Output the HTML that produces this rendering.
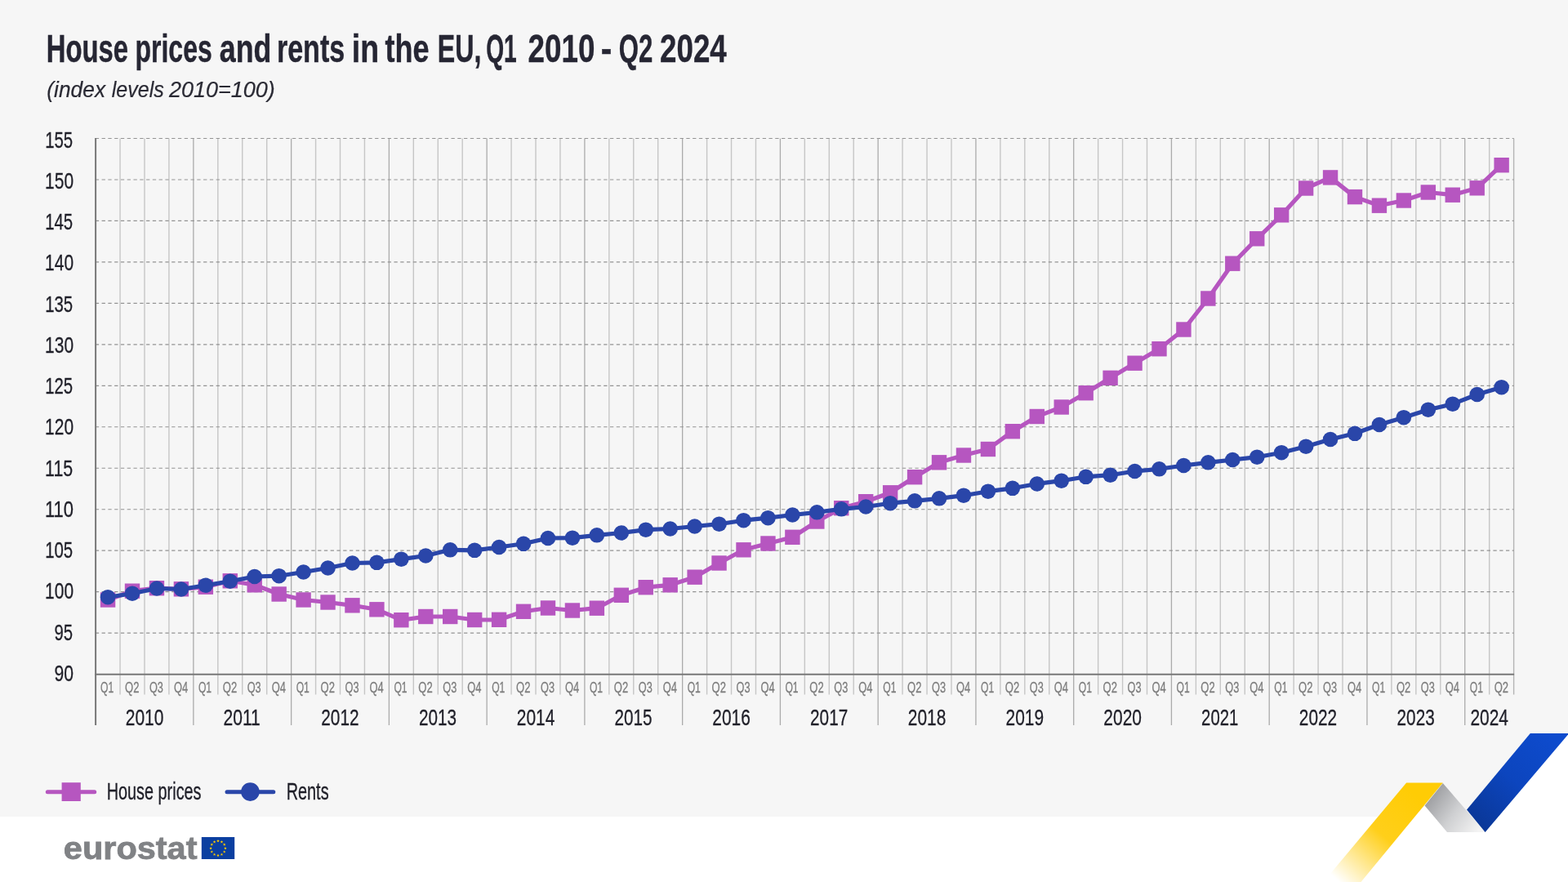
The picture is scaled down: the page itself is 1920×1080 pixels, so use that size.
<!DOCTYPE html>
<html lang="en"><head><meta charset="utf-8"><title>House prices and rents in the EU</title>
<style>html,body{margin:0;padding:0;background:#f6f6f6;}body{width:1920px;height:1080px;overflow:hidden;}svg{display:block;}text{font-family:'Liberation Sans', sans-serif;}</style>
</head><body>
<svg width="1920" height="1080" viewBox="0 0 1920 1080">
<defs>
<linearGradient id="gy" gradientUnits="userSpaceOnUse" x1="1735" y1="975" x2="1640" y2="1080"><stop offset="0" stop-color="#ffcc05"/><stop offset="0.45" stop-color="#ffcf1a"/><stop offset="1" stop-color="#ffffff"/></linearGradient>
<linearGradient id="gs" gradientUnits="userSpaceOnUse" x1="1752" y1="972" x2="1812" y2="1016"><stop offset="0" stop-color="#9c9da0"/><stop offset="0.5" stop-color="#cfd0d2"/><stop offset="1" stop-color="#f4f4f4"/></linearGradient>
<linearGradient id="gb" gradientUnits="userSpaceOnUse" x1="1805" y1="1010" x2="1900" y2="900"><stop offset="0" stop-color="#0a3796"/><stop offset="0.5" stop-color="#0c45be"/><stop offset="1" stop-color="#0e4bcd"/></linearGradient>
</defs>
<rect x="0" y="0" width="1920" height="1080" fill="#f6f6f6"/>
<rect x="0" y="1000" width="1920" height="80" fill="#ffffff"/>
<polygon points="1744.6,986.6 1772,1019 1818.6,1019 1920,898.5 1920,1001 1730,1001" fill="#ffffff"/>
<g fill="none">
<line x1="147.04" y1="169.5" x2="147.04" y2="850.5" stroke="#c6c6c6" stroke-width="1.4"/>
<line x1="176.98" y1="169.5" x2="176.98" y2="850.5" stroke="#c6c6c6" stroke-width="1.4"/>
<line x1="206.92" y1="169.5" x2="206.92" y2="850.5" stroke="#c6c6c6" stroke-width="1.4"/>
<line x1="236.86" y1="169.5" x2="236.86" y2="888" stroke="#ababab" stroke-width="1.3"/>
<line x1="266.80" y1="169.5" x2="266.80" y2="850.5" stroke="#c6c6c6" stroke-width="1.4"/>
<line x1="296.74" y1="169.5" x2="296.74" y2="850.5" stroke="#c6c6c6" stroke-width="1.4"/>
<line x1="326.68" y1="169.5" x2="326.68" y2="850.5" stroke="#c6c6c6" stroke-width="1.4"/>
<line x1="356.62" y1="169.5" x2="356.62" y2="888" stroke="#ababab" stroke-width="1.3"/>
<line x1="386.56" y1="169.5" x2="386.56" y2="850.5" stroke="#c6c6c6" stroke-width="1.4"/>
<line x1="416.50" y1="169.5" x2="416.50" y2="850.5" stroke="#c6c6c6" stroke-width="1.4"/>
<line x1="446.44" y1="169.5" x2="446.44" y2="850.5" stroke="#c6c6c6" stroke-width="1.4"/>
<line x1="476.38" y1="169.5" x2="476.38" y2="888" stroke="#ababab" stroke-width="1.3"/>
<line x1="506.32" y1="169.5" x2="506.32" y2="850.5" stroke="#c6c6c6" stroke-width="1.4"/>
<line x1="536.26" y1="169.5" x2="536.26" y2="850.5" stroke="#c6c6c6" stroke-width="1.4"/>
<line x1="566.19" y1="169.5" x2="566.19" y2="850.5" stroke="#c6c6c6" stroke-width="1.4"/>
<line x1="596.13" y1="169.5" x2="596.13" y2="888" stroke="#ababab" stroke-width="1.3"/>
<line x1="626.07" y1="169.5" x2="626.07" y2="850.5" stroke="#c6c6c6" stroke-width="1.4"/>
<line x1="656.01" y1="169.5" x2="656.01" y2="850.5" stroke="#c6c6c6" stroke-width="1.4"/>
<line x1="685.95" y1="169.5" x2="685.95" y2="850.5" stroke="#c6c6c6" stroke-width="1.4"/>
<line x1="715.89" y1="169.5" x2="715.89" y2="888" stroke="#ababab" stroke-width="1.3"/>
<line x1="745.83" y1="169.5" x2="745.83" y2="850.5" stroke="#c6c6c6" stroke-width="1.4"/>
<line x1="775.77" y1="169.5" x2="775.77" y2="850.5" stroke="#c6c6c6" stroke-width="1.4"/>
<line x1="805.71" y1="169.5" x2="805.71" y2="850.5" stroke="#c6c6c6" stroke-width="1.4"/>
<line x1="835.65" y1="169.5" x2="835.65" y2="888" stroke="#ababab" stroke-width="1.3"/>
<line x1="865.59" y1="169.5" x2="865.59" y2="850.5" stroke="#c6c6c6" stroke-width="1.4"/>
<line x1="895.53" y1="169.5" x2="895.53" y2="850.5" stroke="#c6c6c6" stroke-width="1.4"/>
<line x1="925.47" y1="169.5" x2="925.47" y2="850.5" stroke="#c6c6c6" stroke-width="1.4"/>
<line x1="955.41" y1="169.5" x2="955.41" y2="888" stroke="#ababab" stroke-width="1.3"/>
<line x1="985.35" y1="169.5" x2="985.35" y2="850.5" stroke="#c6c6c6" stroke-width="1.4"/>
<line x1="1015.29" y1="169.5" x2="1015.29" y2="850.5" stroke="#c6c6c6" stroke-width="1.4"/>
<line x1="1045.23" y1="169.5" x2="1045.23" y2="850.5" stroke="#c6c6c6" stroke-width="1.4"/>
<line x1="1075.17" y1="169.5" x2="1075.17" y2="888" stroke="#ababab" stroke-width="1.3"/>
<line x1="1105.11" y1="169.5" x2="1105.11" y2="850.5" stroke="#c6c6c6" stroke-width="1.4"/>
<line x1="1135.05" y1="169.5" x2="1135.05" y2="850.5" stroke="#c6c6c6" stroke-width="1.4"/>
<line x1="1164.99" y1="169.5" x2="1164.99" y2="850.5" stroke="#c6c6c6" stroke-width="1.4"/>
<line x1="1194.93" y1="169.5" x2="1194.93" y2="888" stroke="#ababab" stroke-width="1.3"/>
<line x1="1224.87" y1="169.5" x2="1224.87" y2="850.5" stroke="#c6c6c6" stroke-width="1.4"/>
<line x1="1254.81" y1="169.5" x2="1254.81" y2="850.5" stroke="#c6c6c6" stroke-width="1.4"/>
<line x1="1284.75" y1="169.5" x2="1284.75" y2="850.5" stroke="#c6c6c6" stroke-width="1.4"/>
<line x1="1314.69" y1="169.5" x2="1314.69" y2="888" stroke="#ababab" stroke-width="1.3"/>
<line x1="1344.63" y1="169.5" x2="1344.63" y2="850.5" stroke="#c6c6c6" stroke-width="1.4"/>
<line x1="1374.57" y1="169.5" x2="1374.57" y2="850.5" stroke="#c6c6c6" stroke-width="1.4"/>
<line x1="1404.51" y1="169.5" x2="1404.51" y2="850.5" stroke="#c6c6c6" stroke-width="1.4"/>
<line x1="1434.44" y1="169.5" x2="1434.44" y2="888" stroke="#ababab" stroke-width="1.3"/>
<line x1="1464.38" y1="169.5" x2="1464.38" y2="850.5" stroke="#c6c6c6" stroke-width="1.4"/>
<line x1="1494.32" y1="169.5" x2="1494.32" y2="850.5" stroke="#c6c6c6" stroke-width="1.4"/>
<line x1="1524.26" y1="169.5" x2="1524.26" y2="850.5" stroke="#c6c6c6" stroke-width="1.4"/>
<line x1="1554.20" y1="169.5" x2="1554.20" y2="888" stroke="#ababab" stroke-width="1.3"/>
<line x1="1584.14" y1="169.5" x2="1584.14" y2="850.5" stroke="#c6c6c6" stroke-width="1.4"/>
<line x1="1614.08" y1="169.5" x2="1614.08" y2="850.5" stroke="#c6c6c6" stroke-width="1.4"/>
<line x1="1644.02" y1="169.5" x2="1644.02" y2="850.5" stroke="#c6c6c6" stroke-width="1.4"/>
<line x1="1673.96" y1="169.5" x2="1673.96" y2="888" stroke="#ababab" stroke-width="1.3"/>
<line x1="1703.90" y1="169.5" x2="1703.90" y2="850.5" stroke="#c6c6c6" stroke-width="1.4"/>
<line x1="1733.84" y1="169.5" x2="1733.84" y2="850.5" stroke="#c6c6c6" stroke-width="1.4"/>
<line x1="1763.78" y1="169.5" x2="1763.78" y2="850.5" stroke="#c6c6c6" stroke-width="1.4"/>
<line x1="1793.72" y1="169.5" x2="1793.72" y2="888" stroke="#ababab" stroke-width="1.3"/>
<line x1="1823.66" y1="169.5" x2="1823.66" y2="850.5" stroke="#c6c6c6" stroke-width="1.4"/>
<line x1="1853.60" y1="169.5" x2="1853.60" y2="850.5" stroke="#b4b4b4" stroke-width="1.4"/>
<line x1="116.8" y1="775.13" x2="1853.6" y2="775.13" stroke="#939393" stroke-width="1.15" stroke-dasharray="4.3 3.48"/>
<line x1="116.8" y1="724.66" x2="1853.6" y2="724.66" stroke="#939393" stroke-width="1.15" stroke-dasharray="4.3 3.48"/>
<line x1="116.8" y1="674.19" x2="1853.6" y2="674.19" stroke="#939393" stroke-width="1.15" stroke-dasharray="4.3 3.48"/>
<line x1="116.8" y1="623.72" x2="1853.6" y2="623.72" stroke="#939393" stroke-width="1.15" stroke-dasharray="4.3 3.48"/>
<line x1="116.8" y1="573.25" x2="1853.6" y2="573.25" stroke="#939393" stroke-width="1.15" stroke-dasharray="4.3 3.48"/>
<line x1="116.8" y1="522.78" x2="1853.6" y2="522.78" stroke="#939393" stroke-width="1.15" stroke-dasharray="4.3 3.48"/>
<line x1="116.8" y1="472.32" x2="1853.6" y2="472.32" stroke="#939393" stroke-width="1.15" stroke-dasharray="4.3 3.48"/>
<line x1="116.8" y1="421.85" x2="1853.6" y2="421.85" stroke="#939393" stroke-width="1.15" stroke-dasharray="4.3 3.48"/>
<line x1="116.8" y1="371.38" x2="1853.6" y2="371.38" stroke="#939393" stroke-width="1.15" stroke-dasharray="4.3 3.48"/>
<line x1="116.8" y1="320.91" x2="1853.6" y2="320.91" stroke="#939393" stroke-width="1.15" stroke-dasharray="4.3 3.48"/>
<line x1="116.8" y1="270.44" x2="1853.6" y2="270.44" stroke="#939393" stroke-width="1.15" stroke-dasharray="4.3 3.48"/>
<line x1="116.8" y1="219.97" x2="1853.6" y2="219.97" stroke="#939393" stroke-width="1.15" stroke-dasharray="4.3 3.48"/>
<line x1="116.8" y1="169.50" x2="1853.6" y2="169.50" stroke="#939393" stroke-width="1.15" stroke-dasharray="4.3 3.48"/>
<line x1="117.1" y1="169.0" x2="117.1" y2="888" stroke="#787878" stroke-width="2"/>
<line x1="116.1" y1="825.8" x2="1854.1" y2="825.8" stroke="#787878" stroke-width="2"/>
</g>
<text x="56.74" y="75.60" font-size="47.2" fill="#262633" textLength="100.29" lengthAdjust="spacingAndGlyphs" stroke="#262633" stroke-width="0.4" font-weight="700">House</text>
<text x="165.48" y="75.60" font-size="47.2" fill="#262633" textLength="94.23" lengthAdjust="spacingAndGlyphs" stroke="#262633" stroke-width="0.4" font-weight="700">prices</text>
<text x="268.79" y="75.60" font-size="47.2" fill="#262633" textLength="63.61" lengthAdjust="spacingAndGlyphs" stroke="#262633" stroke-width="0.4" font-weight="700">and</text>
<text x="338.91" y="75.60" font-size="47.2" fill="#262633" textLength="83.25" lengthAdjust="spacingAndGlyphs" stroke="#262633" stroke-width="0.4" font-weight="700">rents</text>
<text x="430.79" y="75.60" font-size="47.2" fill="#262633" textLength="33.24" lengthAdjust="spacingAndGlyphs" stroke="#262633" stroke-width="0.4" font-weight="700">in</text>
<text x="471.46" y="75.60" font-size="47.2" fill="#262633" textLength="53.99" lengthAdjust="spacingAndGlyphs" stroke="#262633" stroke-width="0.4" font-weight="700">the</text>
<text x="535.75" y="75.60" font-size="47.2" fill="#262633" textLength="53.62" lengthAdjust="spacingAndGlyphs" stroke="#262633" stroke-width="0.4" font-weight="700">EU,</text>
<text x="595.14" y="75.60" font-size="47.2" fill="#262633" textLength="37.54" lengthAdjust="spacingAndGlyphs" stroke="#262633" stroke-width="0.4" font-weight="700">Q1</text>
<text x="646.62" y="75.60" font-size="47.2" fill="#262633" textLength="81.91" lengthAdjust="spacingAndGlyphs" stroke="#262633" stroke-width="0.4" font-weight="700">2010</text>
<text x="735.71" y="75.60" font-size="47.2" fill="#262633" textLength="13.51" lengthAdjust="spacingAndGlyphs" stroke="#262633" stroke-width="0.4" font-weight="700">-</text>
<text x="757.72" y="75.60" font-size="47.2" fill="#262633" textLength="41.53" lengthAdjust="spacingAndGlyphs" stroke="#262633" stroke-width="0.4" font-weight="700">Q2</text>
<text x="808.12" y="75.60" font-size="47.2" fill="#262633" textLength="81.68" lengthAdjust="spacingAndGlyphs" stroke="#262633" stroke-width="0.4" font-weight="700">2024</text>
<text x="57.34" y="118.50" font-size="27.3" fill="#2a2a34" textLength="71.77" lengthAdjust="spacingAndGlyphs" stroke="#2a2a34" stroke-width="0.2" font-style="italic">(index</text>
<text x="136.69" y="118.50" font-size="27.3" fill="#2a2a34" textLength="64.03" lengthAdjust="spacingAndGlyphs" stroke="#2a2a34" stroke-width="0.2" font-style="italic">levels</text>
<text x="207.00" y="118.50" font-size="27.3" fill="#2a2a34" textLength="129.85" lengthAdjust="spacingAndGlyphs" stroke="#2a2a34" stroke-width="0.2" font-style="italic">2010=100)</text>
<text x="55.14" y="180.80" font-size="28.5" fill="#1f1f28" textLength="34.04" lengthAdjust="spacingAndGlyphs" stroke="#1f1f28" stroke-width="0.3">155</text>
<text x="55.10" y="231.03" font-size="28.5" fill="#1f1f28" textLength="34.97" lengthAdjust="spacingAndGlyphs" stroke="#1f1f28" stroke-width="0.3">150</text>
<text x="55.14" y="281.25" font-size="28.5" fill="#1f1f28" textLength="34.04" lengthAdjust="spacingAndGlyphs" stroke="#1f1f28" stroke-width="0.3">145</text>
<text x="55.10" y="331.48" font-size="28.5" fill="#1f1f28" textLength="34.97" lengthAdjust="spacingAndGlyphs" stroke="#1f1f28" stroke-width="0.3">140</text>
<text x="55.14" y="381.71" font-size="28.5" fill="#1f1f28" textLength="34.04" lengthAdjust="spacingAndGlyphs" stroke="#1f1f28" stroke-width="0.3">135</text>
<text x="55.10" y="431.94" font-size="28.5" fill="#1f1f28" textLength="34.97" lengthAdjust="spacingAndGlyphs" stroke="#1f1f28" stroke-width="0.3">130</text>
<text x="55.14" y="482.16" font-size="28.5" fill="#1f1f28" textLength="34.04" lengthAdjust="spacingAndGlyphs" stroke="#1f1f28" stroke-width="0.3">125</text>
<text x="55.10" y="532.39" font-size="28.5" fill="#1f1f28" textLength="34.97" lengthAdjust="spacingAndGlyphs" stroke="#1f1f28" stroke-width="0.3">120</text>
<text x="55.06" y="582.62" font-size="28.5" fill="#1f1f28" textLength="34.17" lengthAdjust="spacingAndGlyphs" stroke="#1f1f28" stroke-width="0.3">115</text>
<text x="55.02" y="632.84" font-size="28.5" fill="#1f1f28" textLength="35.05" lengthAdjust="spacingAndGlyphs" stroke="#1f1f28" stroke-width="0.3">110</text>
<text x="55.14" y="683.07" font-size="28.5" fill="#1f1f28" textLength="34.04" lengthAdjust="spacingAndGlyphs" stroke="#1f1f28" stroke-width="0.3">105</text>
<text x="55.10" y="733.30" font-size="28.5" fill="#1f1f28" textLength="34.97" lengthAdjust="spacingAndGlyphs" stroke="#1f1f28" stroke-width="0.3">100</text>
<text x="66.54" y="783.52" font-size="28.5" fill="#1f1f28" textLength="22.63" lengthAdjust="spacingAndGlyphs" stroke="#1f1f28" stroke-width="0.3">95</text>
<text x="66.50" y="833.75" font-size="28.5" fill="#1f1f28" textLength="23.53" lengthAdjust="spacingAndGlyphs" stroke="#1f1f28" stroke-width="0.3">90</text>
<text x="123.12" y="847.80" font-size="18" fill="#7d7d7d" textLength="16.19" lengthAdjust="spacingAndGlyphs" stroke="#7d7d7d" stroke-width="0.3">Q1</text>
<text x="153.02" y="847.80" font-size="18" fill="#7d7d7d" textLength="17.38" lengthAdjust="spacingAndGlyphs" stroke="#7d7d7d" stroke-width="0.3">Q2</text>
<text x="182.97" y="847.80" font-size="18" fill="#7d7d7d" textLength="16.98" lengthAdjust="spacingAndGlyphs" stroke="#7d7d7d" stroke-width="0.3">Q3</text>
<text x="212.90" y="847.80" font-size="18" fill="#7d7d7d" textLength="17.21" lengthAdjust="spacingAndGlyphs" stroke="#7d7d7d" stroke-width="0.3">Q4</text>
<text x="242.88" y="847.80" font-size="18" fill="#7d7d7d" textLength="16.19" lengthAdjust="spacingAndGlyphs" stroke="#7d7d7d" stroke-width="0.3">Q1</text>
<text x="272.77" y="847.80" font-size="18" fill="#7d7d7d" textLength="17.38" lengthAdjust="spacingAndGlyphs" stroke="#7d7d7d" stroke-width="0.3">Q2</text>
<text x="302.73" y="847.80" font-size="18" fill="#7d7d7d" textLength="16.98" lengthAdjust="spacingAndGlyphs" stroke="#7d7d7d" stroke-width="0.3">Q3</text>
<text x="332.66" y="847.80" font-size="18" fill="#7d7d7d" textLength="17.21" lengthAdjust="spacingAndGlyphs" stroke="#7d7d7d" stroke-width="0.3">Q4</text>
<text x="362.64" y="847.80" font-size="18" fill="#7d7d7d" textLength="16.19" lengthAdjust="spacingAndGlyphs" stroke="#7d7d7d" stroke-width="0.3">Q1</text>
<text x="392.53" y="847.80" font-size="18" fill="#7d7d7d" textLength="17.38" lengthAdjust="spacingAndGlyphs" stroke="#7d7d7d" stroke-width="0.3">Q2</text>
<text x="422.49" y="847.80" font-size="18" fill="#7d7d7d" textLength="16.98" lengthAdjust="spacingAndGlyphs" stroke="#7d7d7d" stroke-width="0.3">Q3</text>
<text x="452.42" y="847.80" font-size="18" fill="#7d7d7d" textLength="17.21" lengthAdjust="spacingAndGlyphs" stroke="#7d7d7d" stroke-width="0.3">Q4</text>
<text x="482.39" y="847.80" font-size="18" fill="#7d7d7d" textLength="16.19" lengthAdjust="spacingAndGlyphs" stroke="#7d7d7d" stroke-width="0.3">Q1</text>
<text x="512.29" y="847.80" font-size="18" fill="#7d7d7d" textLength="17.38" lengthAdjust="spacingAndGlyphs" stroke="#7d7d7d" stroke-width="0.3">Q2</text>
<text x="542.24" y="847.80" font-size="18" fill="#7d7d7d" textLength="16.98" lengthAdjust="spacingAndGlyphs" stroke="#7d7d7d" stroke-width="0.3">Q3</text>
<text x="572.18" y="847.80" font-size="18" fill="#7d7d7d" textLength="17.21" lengthAdjust="spacingAndGlyphs" stroke="#7d7d7d" stroke-width="0.3">Q4</text>
<text x="602.15" y="847.80" font-size="18" fill="#7d7d7d" textLength="16.19" lengthAdjust="spacingAndGlyphs" stroke="#7d7d7d" stroke-width="0.3">Q1</text>
<text x="632.05" y="847.80" font-size="18" fill="#7d7d7d" textLength="17.38" lengthAdjust="spacingAndGlyphs" stroke="#7d7d7d" stroke-width="0.3">Q2</text>
<text x="662.00" y="847.80" font-size="18" fill="#7d7d7d" textLength="16.98" lengthAdjust="spacingAndGlyphs" stroke="#7d7d7d" stroke-width="0.3">Q3</text>
<text x="691.94" y="847.80" font-size="18" fill="#7d7d7d" textLength="17.21" lengthAdjust="spacingAndGlyphs" stroke="#7d7d7d" stroke-width="0.3">Q4</text>
<text x="721.91" y="847.80" font-size="18" fill="#7d7d7d" textLength="16.19" lengthAdjust="spacingAndGlyphs" stroke="#7d7d7d" stroke-width="0.3">Q1</text>
<text x="751.81" y="847.80" font-size="18" fill="#7d7d7d" textLength="17.38" lengthAdjust="spacingAndGlyphs" stroke="#7d7d7d" stroke-width="0.3">Q2</text>
<text x="781.76" y="847.80" font-size="18" fill="#7d7d7d" textLength="16.98" lengthAdjust="spacingAndGlyphs" stroke="#7d7d7d" stroke-width="0.3">Q3</text>
<text x="811.69" y="847.80" font-size="18" fill="#7d7d7d" textLength="17.21" lengthAdjust="spacingAndGlyphs" stroke="#7d7d7d" stroke-width="0.3">Q4</text>
<text x="841.67" y="847.80" font-size="18" fill="#7d7d7d" textLength="16.19" lengthAdjust="spacingAndGlyphs" stroke="#7d7d7d" stroke-width="0.3">Q1</text>
<text x="871.57" y="847.80" font-size="18" fill="#7d7d7d" textLength="17.38" lengthAdjust="spacingAndGlyphs" stroke="#7d7d7d" stroke-width="0.3">Q2</text>
<text x="901.52" y="847.80" font-size="18" fill="#7d7d7d" textLength="16.98" lengthAdjust="spacingAndGlyphs" stroke="#7d7d7d" stroke-width="0.3">Q3</text>
<text x="931.45" y="847.80" font-size="18" fill="#7d7d7d" textLength="17.21" lengthAdjust="spacingAndGlyphs" stroke="#7d7d7d" stroke-width="0.3">Q4</text>
<text x="961.43" y="847.80" font-size="18" fill="#7d7d7d" textLength="16.19" lengthAdjust="spacingAndGlyphs" stroke="#7d7d7d" stroke-width="0.3">Q1</text>
<text x="991.33" y="847.80" font-size="18" fill="#7d7d7d" textLength="17.38" lengthAdjust="spacingAndGlyphs" stroke="#7d7d7d" stroke-width="0.3">Q2</text>
<text x="1021.28" y="847.80" font-size="18" fill="#7d7d7d" textLength="16.98" lengthAdjust="spacingAndGlyphs" stroke="#7d7d7d" stroke-width="0.3">Q3</text>
<text x="1051.21" y="847.80" font-size="18" fill="#7d7d7d" textLength="17.21" lengthAdjust="spacingAndGlyphs" stroke="#7d7d7d" stroke-width="0.3">Q4</text>
<text x="1081.19" y="847.80" font-size="18" fill="#7d7d7d" textLength="16.19" lengthAdjust="spacingAndGlyphs" stroke="#7d7d7d" stroke-width="0.3">Q1</text>
<text x="1111.08" y="847.80" font-size="18" fill="#7d7d7d" textLength="17.38" lengthAdjust="spacingAndGlyphs" stroke="#7d7d7d" stroke-width="0.3">Q2</text>
<text x="1141.04" y="847.80" font-size="18" fill="#7d7d7d" textLength="16.98" lengthAdjust="spacingAndGlyphs" stroke="#7d7d7d" stroke-width="0.3">Q3</text>
<text x="1170.97" y="847.80" font-size="18" fill="#7d7d7d" textLength="17.21" lengthAdjust="spacingAndGlyphs" stroke="#7d7d7d" stroke-width="0.3">Q4</text>
<text x="1200.95" y="847.80" font-size="18" fill="#7d7d7d" textLength="16.19" lengthAdjust="spacingAndGlyphs" stroke="#7d7d7d" stroke-width="0.3">Q1</text>
<text x="1230.84" y="847.80" font-size="18" fill="#7d7d7d" textLength="17.38" lengthAdjust="spacingAndGlyphs" stroke="#7d7d7d" stroke-width="0.3">Q2</text>
<text x="1260.80" y="847.80" font-size="18" fill="#7d7d7d" textLength="16.98" lengthAdjust="spacingAndGlyphs" stroke="#7d7d7d" stroke-width="0.3">Q3</text>
<text x="1290.73" y="847.80" font-size="18" fill="#7d7d7d" textLength="17.21" lengthAdjust="spacingAndGlyphs" stroke="#7d7d7d" stroke-width="0.3">Q4</text>
<text x="1320.70" y="847.80" font-size="18" fill="#7d7d7d" textLength="16.19" lengthAdjust="spacingAndGlyphs" stroke="#7d7d7d" stroke-width="0.3">Q1</text>
<text x="1350.60" y="847.80" font-size="18" fill="#7d7d7d" textLength="17.38" lengthAdjust="spacingAndGlyphs" stroke="#7d7d7d" stroke-width="0.3">Q2</text>
<text x="1380.56" y="847.80" font-size="18" fill="#7d7d7d" textLength="16.98" lengthAdjust="spacingAndGlyphs" stroke="#7d7d7d" stroke-width="0.3">Q3</text>
<text x="1410.49" y="847.80" font-size="18" fill="#7d7d7d" textLength="17.21" lengthAdjust="spacingAndGlyphs" stroke="#7d7d7d" stroke-width="0.3">Q4</text>
<text x="1440.46" y="847.80" font-size="18" fill="#7d7d7d" textLength="16.19" lengthAdjust="spacingAndGlyphs" stroke="#7d7d7d" stroke-width="0.3">Q1</text>
<text x="1470.36" y="847.80" font-size="18" fill="#7d7d7d" textLength="17.38" lengthAdjust="spacingAndGlyphs" stroke="#7d7d7d" stroke-width="0.3">Q2</text>
<text x="1500.31" y="847.80" font-size="18" fill="#7d7d7d" textLength="16.98" lengthAdjust="spacingAndGlyphs" stroke="#7d7d7d" stroke-width="0.3">Q3</text>
<text x="1530.25" y="847.80" font-size="18" fill="#7d7d7d" textLength="17.21" lengthAdjust="spacingAndGlyphs" stroke="#7d7d7d" stroke-width="0.3">Q4</text>
<text x="1560.22" y="847.80" font-size="18" fill="#7d7d7d" textLength="16.19" lengthAdjust="spacingAndGlyphs" stroke="#7d7d7d" stroke-width="0.3">Q1</text>
<text x="1590.12" y="847.80" font-size="18" fill="#7d7d7d" textLength="17.38" lengthAdjust="spacingAndGlyphs" stroke="#7d7d7d" stroke-width="0.3">Q2</text>
<text x="1620.07" y="847.80" font-size="18" fill="#7d7d7d" textLength="16.98" lengthAdjust="spacingAndGlyphs" stroke="#7d7d7d" stroke-width="0.3">Q3</text>
<text x="1650.00" y="847.80" font-size="18" fill="#7d7d7d" textLength="17.21" lengthAdjust="spacingAndGlyphs" stroke="#7d7d7d" stroke-width="0.3">Q4</text>
<text x="1679.98" y="847.80" font-size="18" fill="#7d7d7d" textLength="16.19" lengthAdjust="spacingAndGlyphs" stroke="#7d7d7d" stroke-width="0.3">Q1</text>
<text x="1709.88" y="847.80" font-size="18" fill="#7d7d7d" textLength="17.38" lengthAdjust="spacingAndGlyphs" stroke="#7d7d7d" stroke-width="0.3">Q2</text>
<text x="1739.83" y="847.80" font-size="18" fill="#7d7d7d" textLength="16.98" lengthAdjust="spacingAndGlyphs" stroke="#7d7d7d" stroke-width="0.3">Q3</text>
<text x="1769.76" y="847.80" font-size="18" fill="#7d7d7d" textLength="17.21" lengthAdjust="spacingAndGlyphs" stroke="#7d7d7d" stroke-width="0.3">Q4</text>
<text x="1799.74" y="847.80" font-size="18" fill="#7d7d7d" textLength="16.19" lengthAdjust="spacingAndGlyphs" stroke="#7d7d7d" stroke-width="0.3">Q1</text>
<text x="1829.64" y="847.80" font-size="18" fill="#7d7d7d" textLength="17.38" lengthAdjust="spacingAndGlyphs" stroke="#7d7d7d" stroke-width="0.3">Q2</text>
<text x="153.72" y="887.80" font-size="28.5" fill="#1f1f28" textLength="46.70" lengthAdjust="spacingAndGlyphs" stroke="#1f1f28" stroke-width="0.3">2010</text>
<text x="273.47" y="887.80" font-size="28.5" fill="#1f1f28" textLength="45.31" lengthAdjust="spacingAndGlyphs" stroke="#1f1f28" stroke-width="0.3">2011</text>
<text x="393.25" y="887.80" font-size="28.5" fill="#1f1f28" textLength="46.29" lengthAdjust="spacingAndGlyphs" stroke="#1f1f28" stroke-width="0.3">2012</text>
<text x="513.01" y="887.80" font-size="28.5" fill="#1f1f28" textLength="46.08" lengthAdjust="spacingAndGlyphs" stroke="#1f1f28" stroke-width="0.3">2013</text>
<text x="632.76" y="887.80" font-size="28.5" fill="#1f1f28" textLength="46.57" lengthAdjust="spacingAndGlyphs" stroke="#1f1f28" stroke-width="0.3">2014</text>
<text x="752.53" y="887.80" font-size="28.5" fill="#1f1f28" textLength="46.07" lengthAdjust="spacingAndGlyphs" stroke="#1f1f28" stroke-width="0.3">2015</text>
<text x="872.28" y="887.80" font-size="28.5" fill="#1f1f28" textLength="46.50" lengthAdjust="spacingAndGlyphs" stroke="#1f1f28" stroke-width="0.3">2016</text>
<text x="992.04" y="887.80" font-size="28.5" fill="#1f1f28" textLength="46.19" lengthAdjust="spacingAndGlyphs" stroke="#1f1f28" stroke-width="0.3">2017</text>
<text x="1111.79" y="887.80" font-size="28.5" fill="#1f1f28" textLength="46.49" lengthAdjust="spacingAndGlyphs" stroke="#1f1f28" stroke-width="0.3">2018</text>
<text x="1231.55" y="887.80" font-size="28.5" fill="#1f1f28" textLength="46.50" lengthAdjust="spacingAndGlyphs" stroke="#1f1f28" stroke-width="0.3">2019</text>
<text x="1351.31" y="887.80" font-size="28.5" fill="#1f1f28" textLength="46.70" lengthAdjust="spacingAndGlyphs" stroke="#1f1f28" stroke-width="0.3">2020</text>
<text x="1471.10" y="887.80" font-size="28.5" fill="#1f1f28" textLength="45.25" lengthAdjust="spacingAndGlyphs" stroke="#1f1f28" stroke-width="0.3">2021</text>
<text x="1590.83" y="887.80" font-size="28.5" fill="#1f1f28" textLength="46.29" lengthAdjust="spacingAndGlyphs" stroke="#1f1f28" stroke-width="0.3">2022</text>
<text x="1710.60" y="887.80" font-size="28.5" fill="#1f1f28" textLength="46.08" lengthAdjust="spacingAndGlyphs" stroke="#1f1f28" stroke-width="0.3">2023</text>
<text x="1800.40" y="887.80" font-size="28.5" fill="#1f1f28" textLength="46.57" lengthAdjust="spacingAndGlyphs" stroke="#1f1f28" stroke-width="0.3">2024</text>
<text x="130.66" y="979.20" font-size="28.8" fill="#1f1f28" textLength="115.87" lengthAdjust="spacingAndGlyphs" stroke="#1f1f28" stroke-width="0.3">House prices</text>
<text x="350.67" y="979.20" font-size="28.8" fill="#1f1f28" textLength="51.91" lengthAdjust="spacingAndGlyphs" stroke="#1f1f28" stroke-width="0.3">Rents</text>
<text x="77.86" y="1052.30" font-size="39" fill="#808285" textLength="163.64" lengthAdjust="spacingAndGlyphs" stroke="#808285" stroke-width="0.8" font-weight="700">eurostat</text>
<polyline points="132.07,734.50 162.01,723.70 191.95,720.20 221.89,721.30 251.83,718.70 281.77,711.30 311.71,716.30 341.65,727.50 371.59,734.50 401.53,737.50 431.47,741.30 461.41,746.30 491.35,759.20 521.29,755.00 551.23,755.00 581.16,759.00 611.10,758.80 641.04,748.80 670.98,744.50 700.92,747.50 730.86,744.70 760.80,728.80 790.74,719.20 820.68,716.30 850.62,706.70 880.56,689.50 910.50,673.30 940.44,665.50 970.38,657.80 1000.32,638.50 1030.26,622.20 1060.20,614.20 1090.14,603.30 1120.08,584.20 1150.02,566.30 1179.96,557.50 1209.90,550.00 1239.84,528.20 1269.78,510.00 1299.72,498.50 1329.66,481.20 1359.60,462.80 1389.54,444.70 1419.47,427.20 1449.41,403.50 1479.35,365.50 1509.29,322.70 1539.23,292.30 1569.17,263.30 1599.11,230.50 1629.05,217.40 1658.99,241.10 1688.93,251.70 1718.87,245.50 1748.81,235.50 1778.75,238.70 1808.69,230.30 1838.63,202.20" fill="none" stroke="#b656c0" stroke-width="5.2" stroke-linejoin="round" stroke-linecap="round"/>
<g fill="#b656c0">
<rect x="122.87" y="725.30" width="18.4" height="18.4"/>
<rect x="152.81" y="714.50" width="18.4" height="18.4"/>
<rect x="182.75" y="711.00" width="18.4" height="18.4"/>
<rect x="212.69" y="712.10" width="18.4" height="18.4"/>
<rect x="242.63" y="709.50" width="18.4" height="18.4"/>
<rect x="272.57" y="702.10" width="18.4" height="18.4"/>
<rect x="302.51" y="707.10" width="18.4" height="18.4"/>
<rect x="332.45" y="718.30" width="18.4" height="18.4"/>
<rect x="362.39" y="725.30" width="18.4" height="18.4"/>
<rect x="392.33" y="728.30" width="18.4" height="18.4"/>
<rect x="422.27" y="732.10" width="18.4" height="18.4"/>
<rect x="452.21" y="737.10" width="18.4" height="18.4"/>
<rect x="482.15" y="750.00" width="18.4" height="18.4"/>
<rect x="512.09" y="745.80" width="18.4" height="18.4"/>
<rect x="542.02" y="745.80" width="18.4" height="18.4"/>
<rect x="571.96" y="749.80" width="18.4" height="18.4"/>
<rect x="601.90" y="749.60" width="18.4" height="18.4"/>
<rect x="631.84" y="739.60" width="18.4" height="18.4"/>
<rect x="661.78" y="735.30" width="18.4" height="18.4"/>
<rect x="691.72" y="738.30" width="18.4" height="18.4"/>
<rect x="721.66" y="735.50" width="18.4" height="18.4"/>
<rect x="751.60" y="719.60" width="18.4" height="18.4"/>
<rect x="781.54" y="710.00" width="18.4" height="18.4"/>
<rect x="811.48" y="707.10" width="18.4" height="18.4"/>
<rect x="841.42" y="697.50" width="18.4" height="18.4"/>
<rect x="871.36" y="680.30" width="18.4" height="18.4"/>
<rect x="901.30" y="664.10" width="18.4" height="18.4"/>
<rect x="931.24" y="656.30" width="18.4" height="18.4"/>
<rect x="961.18" y="648.60" width="18.4" height="18.4"/>
<rect x="991.12" y="629.30" width="18.4" height="18.4"/>
<rect x="1021.06" y="613.00" width="18.4" height="18.4"/>
<rect x="1051.00" y="605.00" width="18.4" height="18.4"/>
<rect x="1080.94" y="594.10" width="18.4" height="18.4"/>
<rect x="1110.88" y="575.00" width="18.4" height="18.4"/>
<rect x="1140.82" y="557.10" width="18.4" height="18.4"/>
<rect x="1170.76" y="548.30" width="18.4" height="18.4"/>
<rect x="1200.70" y="540.80" width="18.4" height="18.4"/>
<rect x="1230.64" y="519.00" width="18.4" height="18.4"/>
<rect x="1260.58" y="500.80" width="18.4" height="18.4"/>
<rect x="1290.52" y="489.30" width="18.4" height="18.4"/>
<rect x="1320.46" y="472.00" width="18.4" height="18.4"/>
<rect x="1350.40" y="453.60" width="18.4" height="18.4"/>
<rect x="1380.34" y="435.50" width="18.4" height="18.4"/>
<rect x="1410.27" y="418.00" width="18.4" height="18.4"/>
<rect x="1440.21" y="394.30" width="18.4" height="18.4"/>
<rect x="1470.15" y="356.30" width="18.4" height="18.4"/>
<rect x="1500.09" y="313.50" width="18.4" height="18.4"/>
<rect x="1530.03" y="283.10" width="18.4" height="18.4"/>
<rect x="1559.97" y="254.10" width="18.4" height="18.4"/>
<rect x="1589.91" y="221.30" width="18.4" height="18.4"/>
<rect x="1619.85" y="208.20" width="18.4" height="18.4"/>
<rect x="1649.79" y="231.90" width="18.4" height="18.4"/>
<rect x="1679.73" y="242.50" width="18.4" height="18.4"/>
<rect x="1709.67" y="236.30" width="18.4" height="18.4"/>
<rect x="1739.61" y="226.30" width="18.4" height="18.4"/>
<rect x="1769.55" y="229.50" width="18.4" height="18.4"/>
<rect x="1799.49" y="221.10" width="18.4" height="18.4"/>
<rect x="1829.43" y="193.00" width="18.4" height="18.4"/>
</g>
<polyline points="132.07,731.20 162.01,726.70 191.95,720.50 221.89,721.50 251.83,716.70 281.77,711.70 311.71,706.00 341.65,705.20 371.59,700.50 401.53,695.50 431.47,689.50 461.41,688.80 491.35,684.70 521.29,680.50 551.23,673.30 581.16,673.80 611.10,670.00 641.04,665.80 670.98,659.00 700.92,658.70 730.86,655.30 760.80,652.50 790.74,648.70 820.68,647.50 850.62,644.50 880.56,641.70 910.50,637.20 940.44,634.20 970.38,630.50 1000.32,627.30 1030.26,623.30 1060.20,620.50 1090.14,616.20 1120.08,613.30 1150.02,610.30 1179.96,606.70 1209.90,601.70 1239.84,597.80 1269.78,592.50 1299.72,588.70 1329.66,583.80 1359.60,581.70 1389.54,577.00 1419.47,574.30 1449.41,570.00 1479.35,566.30 1509.29,563.00 1539.23,559.70 1569.17,554.20 1599.11,546.70 1629.05,538.00 1658.99,530.80 1688.93,520.00 1718.87,511.20 1748.81,501.70 1778.75,494.70 1808.69,483.00 1838.63,474.20" fill="none" stroke="#2a46a9" stroke-width="5.2" stroke-linejoin="round" stroke-linecap="round"/>
<g fill="#2a46a9">
<circle cx="132.07" cy="731.20" r="9.3"/>
<circle cx="162.01" cy="726.70" r="9.3"/>
<circle cx="191.95" cy="720.50" r="9.3"/>
<circle cx="221.89" cy="721.50" r="9.3"/>
<circle cx="251.83" cy="716.70" r="9.3"/>
<circle cx="281.77" cy="711.70" r="9.3"/>
<circle cx="311.71" cy="706.00" r="9.3"/>
<circle cx="341.65" cy="705.20" r="9.3"/>
<circle cx="371.59" cy="700.50" r="9.3"/>
<circle cx="401.53" cy="695.50" r="9.3"/>
<circle cx="431.47" cy="689.50" r="9.3"/>
<circle cx="461.41" cy="688.80" r="9.3"/>
<circle cx="491.35" cy="684.70" r="9.3"/>
<circle cx="521.29" cy="680.50" r="9.3"/>
<circle cx="551.23" cy="673.30" r="9.3"/>
<circle cx="581.16" cy="673.80" r="9.3"/>
<circle cx="611.10" cy="670.00" r="9.3"/>
<circle cx="641.04" cy="665.80" r="9.3"/>
<circle cx="670.98" cy="659.00" r="9.3"/>
<circle cx="700.92" cy="658.70" r="9.3"/>
<circle cx="730.86" cy="655.30" r="9.3"/>
<circle cx="760.80" cy="652.50" r="9.3"/>
<circle cx="790.74" cy="648.70" r="9.3"/>
<circle cx="820.68" cy="647.50" r="9.3"/>
<circle cx="850.62" cy="644.50" r="9.3"/>
<circle cx="880.56" cy="641.70" r="9.3"/>
<circle cx="910.50" cy="637.20" r="9.3"/>
<circle cx="940.44" cy="634.20" r="9.3"/>
<circle cx="970.38" cy="630.50" r="9.3"/>
<circle cx="1000.32" cy="627.30" r="9.3"/>
<circle cx="1030.26" cy="623.30" r="9.3"/>
<circle cx="1060.20" cy="620.50" r="9.3"/>
<circle cx="1090.14" cy="616.20" r="9.3"/>
<circle cx="1120.08" cy="613.30" r="9.3"/>
<circle cx="1150.02" cy="610.30" r="9.3"/>
<circle cx="1179.96" cy="606.70" r="9.3"/>
<circle cx="1209.90" cy="601.70" r="9.3"/>
<circle cx="1239.84" cy="597.80" r="9.3"/>
<circle cx="1269.78" cy="592.50" r="9.3"/>
<circle cx="1299.72" cy="588.70" r="9.3"/>
<circle cx="1329.66" cy="583.80" r="9.3"/>
<circle cx="1359.60" cy="581.70" r="9.3"/>
<circle cx="1389.54" cy="577.00" r="9.3"/>
<circle cx="1419.47" cy="574.30" r="9.3"/>
<circle cx="1449.41" cy="570.00" r="9.3"/>
<circle cx="1479.35" cy="566.30" r="9.3"/>
<circle cx="1509.29" cy="563.00" r="9.3"/>
<circle cx="1539.23" cy="559.70" r="9.3"/>
<circle cx="1569.17" cy="554.20" r="9.3"/>
<circle cx="1599.11" cy="546.70" r="9.3"/>
<circle cx="1629.05" cy="538.00" r="9.3"/>
<circle cx="1658.99" cy="530.80" r="9.3"/>
<circle cx="1688.93" cy="520.00" r="9.3"/>
<circle cx="1718.87" cy="511.20" r="9.3"/>
<circle cx="1748.81" cy="501.70" r="9.3"/>
<circle cx="1778.75" cy="494.70" r="9.3"/>
<circle cx="1808.69" cy="483.00" r="9.3"/>
<circle cx="1838.63" cy="474.20" r="9.3"/>
</g>
<line x1="58.3" y1="969.7" x2="115.7" y2="969.7" stroke="#b656c0" stroke-width="5" stroke-linecap="round"/>
<rect x="75.6" y="958.2" width="23.2" height="22.8" fill="#b656c0"/>
<line x1="278" y1="969.7" x2="334.8" y2="969.7" stroke="#2a46a9" stroke-width="5" stroke-linecap="round"/>
<circle cx="306.4" cy="969.6" r="11.3" fill="#2a46a9"/>
<rect x="246.8" y="1025" width="40.4" height="27" fill="#0b3fa0"/>
<g fill="#ffcc00">
<polygon points="267.00,1027.80 267.47,1029.05 268.81,1029.11 267.76,1029.95 268.12,1031.24 267.00,1030.50 265.88,1031.24 266.24,1029.95 265.19,1029.11 266.53,1029.05"/>
<polygon points="271.45,1028.99 271.92,1030.25 273.26,1030.31 272.21,1031.14 272.57,1032.43 271.45,1031.69 270.33,1032.43 270.69,1031.14 269.64,1030.31 270.98,1030.25"/>
<polygon points="274.71,1032.25 275.18,1033.50 276.51,1033.56 275.47,1034.40 275.82,1035.69 274.71,1034.95 273.59,1035.69 273.95,1034.40 272.90,1033.56 274.24,1033.50"/>
<polygon points="275.90,1036.70 276.37,1037.95 277.71,1038.01 276.66,1038.85 277.02,1040.14 275.90,1039.40 274.78,1040.14 275.14,1038.85 274.09,1038.01 275.43,1037.95"/>
<polygon points="274.71,1041.15 275.18,1042.40 276.51,1042.46 275.47,1043.30 275.82,1044.59 274.71,1043.85 273.59,1044.59 273.95,1043.30 272.90,1042.46 274.24,1042.40"/>
<polygon points="271.45,1044.41 271.92,1045.66 273.26,1045.72 272.21,1046.55 272.57,1047.84 271.45,1047.11 270.33,1047.84 270.69,1046.55 269.64,1045.72 270.98,1045.66"/>
<polygon points="267.00,1045.60 267.47,1046.85 268.81,1046.91 267.76,1047.75 268.12,1049.04 267.00,1048.30 265.88,1049.04 266.24,1047.75 265.19,1046.91 266.53,1046.85"/>
<polygon points="262.55,1044.41 263.02,1045.66 264.36,1045.72 263.31,1046.55 263.67,1047.84 262.55,1047.11 261.43,1047.84 261.79,1046.55 260.74,1045.72 262.08,1045.66"/>
<polygon points="259.29,1041.15 259.76,1042.40 261.10,1042.46 260.05,1043.30 260.41,1044.59 259.29,1043.85 258.18,1044.59 258.53,1043.30 257.49,1042.46 258.82,1042.40"/>
<polygon points="258.10,1036.70 258.57,1037.95 259.91,1038.01 258.86,1038.85 259.22,1040.14 258.10,1039.40 256.98,1040.14 257.34,1038.85 256.29,1038.01 257.63,1037.95"/>
<polygon points="259.29,1032.25 259.76,1033.50 261.10,1033.56 260.05,1034.40 260.41,1035.69 259.29,1034.95 258.18,1035.69 258.53,1034.40 257.49,1033.56 258.82,1033.50"/>
<polygon points="262.55,1028.99 263.02,1030.25 264.36,1030.31 263.31,1031.14 263.67,1032.43 262.55,1031.69 261.43,1032.43 261.79,1031.14 260.74,1030.31 262.08,1030.25"/>
</g>
<polygon points="1722.1,958.4 1766.8,958.4 1666.5,1080 1620.5,1080" fill="url(#gy)"/>
<polygon points="1766.8,958.9 1818.6,1019 1772,1019 1744.6,986.6" fill="url(#gs)"/>
<polygon points="1873.8,898 1920,898 1920,899.5 1818.6,1019 1796,991.6" fill="url(#gb)"/>
</svg>
</body></html>
